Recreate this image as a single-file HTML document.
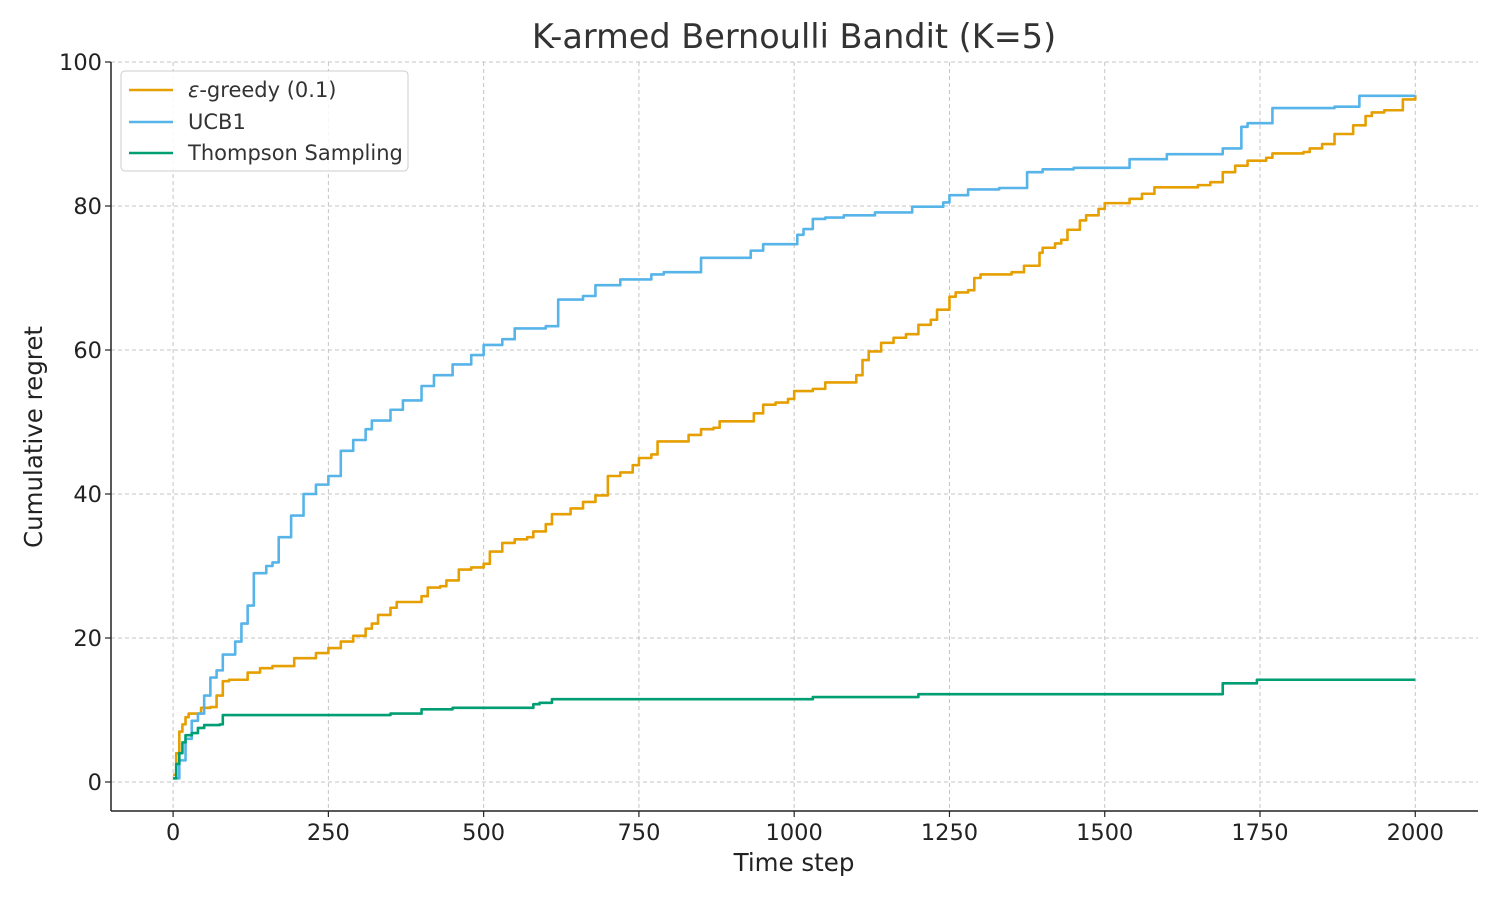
<!DOCTYPE html>
<html><head><meta charset="utf-8">
<style>
html,body{margin:0;padding:0;background:#fff;}
svg{display:block;font-family:"DejaVu Sans","Liberation Sans",sans-serif;}
</style></head>
<body>
<svg id="chart" width="1500" height="900" viewBox="0 0 1500 900" xmlns="http://www.w3.org/2000/svg">
<rect width="1500" height="900" fill="#fff"/>
<text x="794" y="48" text-anchor="middle" font-size="33.5" fill="#333">K-armed Bernoulli Bandit (K=5)</text>
<g id="grid"></g>
<g id="series"></g>
<g id="axes"></g>
<text x="794" y="871" text-anchor="middle" font-size="24.5" fill="#222">Time step</text>
<text transform="translate(42,437) rotate(-90)" text-anchor="middle" font-size="24.5" fill="#222">Cumulative regret</text>
<g>
<rect x="121" y="71" width="287" height="100" rx="4" fill="#fff" fill-opacity="0.85" stroke="#ccc"/>
<line x1="129" y1="90" x2="173" y2="90" stroke="#E69F00" stroke-width="2.5"/>
<text x="188" y="97" font-size="21" fill="#333"><tspan font-style="italic">ε</tspan>-greedy (0.1)</text>
<line x1="129" y1="122" x2="173" y2="122" stroke="#56B4E9" stroke-width="2.5"/>
<text x="188" y="129" font-size="21" fill="#333">UCB1</text>
<line x1="129" y1="153" x2="173" y2="153" stroke="#009E73" stroke-width="2.5"/>
<text x="188" y="160" font-size="21" fill="#333">Thompson Sampling</text>
</g>
</svg>
<script>
const xTicks = [0,250,500,750,1000,1250,1500,1750,2000];
const yTicks = [0,20,40,60,80,100];
const ucbT = [0,10,20,30,40,50,60,70,80,100,110,120,130,150,160,170,190,210,230,250,270,290,310,320,350,370,400,420,450,480,500,530,550,600,620,660,680,720,770,790,850,930,950,1005,1015,1030,1050,1080,1130,1190,1240,1250,1280,1330,1375,1400,1450,1540,1600,1680,1690,1720,1730,1770,1870,1910,2000];
const ucbV = [0.5,3,6,8.5,9.5,12,14.5,15.5,17.7,19.5,22,24.5,29,30,30.5,34,37,40,41.3,42.5,46,47.5,49,50.2,51.7,53,55,56.5,58,59.3,60.7,61.5,63,63.3,67,67.5,69,69.8,70.5,70.8,72.8,73.8,74.7,76,76.8,78.2,78.4,78.7,79.1,79.9,80.5,81.5,82.3,82.5,84.7,85.1,85.3,86.5,87.2,87.2,88,91,91.5,93.6,93.8,95.3,95.3];
const egT = [0,5,10,15,20,25,40,45,60,70,80,90,120,140,160,195,230,250,270,290,310,320,330,350,360,400,410,430,440,460,480,500,510,530,550,570,580,600,610,640,660,680,700,720,740,750,770,780,830,850,870,880,935,950,970,990,1000,1030,1050,1100,1110,1120,1140,1160,1180,1200,1220,1230,1250,1260,1280,1290,1300,1350,1370,1395,1400,1420,1430,1440,1460,1470,1490,1500,1540,1560,1580,1650,1670,1690,1710,1730,1760,1770,1820,1830,1850,1870,1900,1920,1930,1950,1980,2000];
const egV = [1,4,7,8,9,9.5,9.5,10.3,10.4,12,14,14.2,15.2,15.8,16.1,17.2,17.9,18.6,19.5,20.3,21.3,22,23.2,24.2,25,25.8,27,27.2,28,29.5,29.8,30.3,32,33.2,33.7,34,34.8,35.8,37.2,38,38.9,39.8,42.5,43,44,45,45.5,47.3,48.2,49,49.2,50.1,51.2,52.4,52.7,53.2,54.3,54.6,55.5,56.5,58.6,59.8,61,61.7,62.2,63.5,64.2,65.6,67.4,68,68.3,70,70.5,70.8,71.7,73.5,74.2,74.8,75.3,76.7,78,78.7,79.6,80.4,81,81.7,82.6,82.9,83.3,84.7,85.6,86.3,86.7,87.3,87.5,88,88.6,90,91.2,92.5,93,93.3,94.8,95.4];
const tsT = [0,5,10,15,20,30,40,50,75,80,350,400,450,580,590,610,1030,1200,1690,1745,2000];
const tsV = [0.5,2.5,4,5.5,6.5,6.8,7.5,7.9,8,9.3,9.5,10.1,10.3,10.8,11,11.5,11.8,12.2,13.7,14.2,14.2];

const X0=111,X1=1478,Y0=62,Y1=811;
const xmin=-100,xmax=2101,ymin=-4.03,ymax=100;
const sx=t=>X0+(t-xmin)/(xmax-xmin)*(X1-X0);
const sy=v=>Y1-(v-ymin)/(ymax-ymin)*(Y1-Y0);
const NS="http://www.w3.org/2000/svg";
function mk(tag,attrs,parent){const e=document.createElementNS(NS,tag);for(const k in attrs)e.setAttribute(k,attrs[k]);parent.appendChild(e);return e;}
const grid=document.getElementById('grid'),axes=document.getElementById('axes'),ser=document.getElementById('series');
xTicks.forEach(t=>{
  const g=mk('line',{x1:sx(t),x2:sx(t),y1:Y0,y2:Y1,stroke:'#c4c4c4','stroke-dasharray':'4,3'},grid);
  
  
  mk('line',{x1:sx(t),x2:sx(t),y1:Y1,y2:Y1+6,stroke:'#222','stroke-width':1.2},axes);
  const l=mk('text',{x:sx(t),y:Y1+29,'text-anchor':'middle','font-size':22.5,fill:'#222'},axes);
  l.textContent=t;
  
  
});
yTicks.forEach(v=>{
  const g=mk('line',{x1:X0,x2:X1,y1:sy(v),y2:sy(v),stroke:'#c4c4c4','stroke-dasharray':'4,3'},grid);
  
  
  mk('line',{x1:X0-6,x2:X0,y1:sy(v),y2:sy(v),stroke:'#222','stroke-width':1.2},axes);
  const l=mk('text',{x:X0-9,y:sy(v)+8,'text-anchor':'end','font-size':22.5,fill:'#222'},axes);
  l.textContent=v;
  
  
});
mk('line',{x1:X0,x2:X0,y1:Y0,y2:Y1,stroke:'#222','stroke-width':1.5},axes);
mk('line',{x1:X0,x2:X1,y1:Y1,y2:Y1,stroke:'#222','stroke-width':1.5},axes);
function step(T,V,color,name){
  let pts=[];
  for(let i=0;i<T.length;i++){
    if(i>0)pts.push(sx(T[i])+','+sy(V[i-1]));
    pts.push(sx(T[i])+','+sy(V[i]));
  }
  const p=mk('polyline',{points:pts.join(' '),fill:'none',stroke:color,'stroke-width':2.6,'stroke-linejoin':'round'},ser);
  
  
}
step(egT,egV,'#E69F00','egreedy-line');
step(ucbT,ucbV,'#56B4E9','ucb1-line');
step(tsT,tsV,'#009E73','thompson-line');
</script>
</body></html>
